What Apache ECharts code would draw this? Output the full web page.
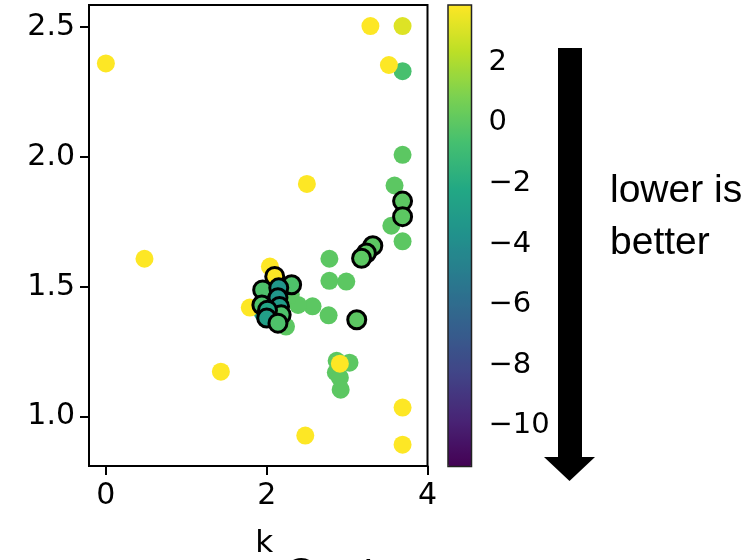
<!DOCTYPE html>
<html>
<head>
<meta charset="utf-8">
<script src="https://cdn.jsdelivr.net/npm/echarts@6/dist/echarts.min.js"></script>
<style>
  html, body { margin: 0; padding: 0; background: #fff; }
  #chart { width: 749px; height: 560px; }
</style>
</head>
<body>
<div id="chart"></div>
<script>
// Plain markers: k, y value, colour score
const plainK = [3.69, 3.69, 3.69, 3.59, 3.55, 3.69, 2.78, 2.78, 2.99, 2.57, 2.77,
                2.87, 3.03, 2.86, 2.91, 2.92, 2.39, 2.24, 2.30, 1.95,
                0.00, 3.29, 3.52, 2.50, 0.48, 1.43, 2.48, 3.69, 3.69,
                2.91, 2.04, 1.79];
const plainY = [2.504, 2.33, 2.008, 1.89, 1.735, 1.675, 1.608, 1.523, 1.52, 1.425, 1.39,
                1.215, 1.208, 1.17, 1.15, 1.104, 1.43, 1.347, 1.47, 1.40,
                2.36, 2.504, 2.354, 1.896, 1.608, 1.173, 0.927, 1.035, 0.892,
                1.204, 1.578, 1.42];
const plainScore = [3.13, -0.6, 0.0, 0.0, 0.0, 0.0, 0.0, 0.0, 0.0, 0.0, 0.0,
                    0.0, 0.0, 0.0, 0.0, 0.0, 0.0, 0.0, 0.0, -3.0,
                    3.89, 3.89, 3.89, 3.89, 3.89, 3.89, 3.89, 3.89, 3.89,
                    3.89, 3.89, 3.89];

// Outlined markers: k, y value, colour score
const ringK = [3.69, 3.69, 3.32, 3.24, 3.18, 3.12,
               2.10, 2.31, 1.95, 2.15, 2.14, 1.94, 2.16, 2.18, 2.01, 2.00, 2.14];
const ringY = [1.83, 1.77, 1.658, 1.63, 1.61, 1.373,
               1.54, 1.508, 1.488, 1.496, 1.458, 1.43, 1.424, 1.392, 1.41, 1.38, 1.36];
const ringScore = [0.0, 0.0, 0.0, 0.0, 0.0, 0.0,
                   3.89, -0.4, -0.4, -3.3, -3.3, -0.4, -3.0, -0.4, -2.3, -2.8, -0.4];

// Tick labels
const xTicks = [0, 2, 4];
const yTicks = [1.0, 1.5, 2.0, 2.5];
const barTicks = [-10, -8, -6, -4, -2, 0, 2];

const scoreMin = -11.34, scoreMax = 3.89;
const viridis = ['#440154', '#482475', '#414487', '#355f8d', '#2a788e', '#21918c',
                 '#22a884', '#44bf70', '#7ad151', '#bddf26', '#fde725'];

const zip = (a, b, c) => a.map((v, i) => [v, b[i], c[i]]);
const font = 'DejaVu Sans';
const tickStyle = { show: true, inside: false, length: 9, lineStyle: { color: '#000', width: 2 } };

const chart = echarts.init(document.getElementById('chart'));
chart.setOption({
  animation: false,
  backgroundColor: '#fff',
  grid: [
    { left: 89, top: 5, width: 338.5, height: 461, show: true, borderColor: '#000', borderWidth: 2,
      containLabel: false, outerBoundsMode: 'none' },
    { left: 448, top: 5, width: 23.5, height: 461.5, show: true, borderColor: '#222', borderWidth: 1.5,
      containLabel: false, outerBoundsMode: 'none', z: 10 }
  ],
  xAxis: [
    {
      gridIndex: 0, type: 'value', min: -0.21, max: 4.0,
      splitLine: { show: false },
      axisLine: { show: true, onZero: false, lineStyle: { color: '#000', width: 2 } },
      axisTick: Object.assign({ customValues: xTicks }, tickStyle),
      axisLabel: { customValues: xTicks, margin: 15, fontSize: 30, fontFamily: font, color: '#000' },
      name: 'k', nameLocation: 'middle', nameGap: 62,
      nameTextStyle: { fontSize: 31, fontFamily: font, color: '#000', padding: [0, 0, 0, 12] }
    },
    { gridIndex: 1, type: 'value', min: 0, max: 1, show: false }
  ],
  yAxis: [
    {
      gridIndex: 0, type: 'value', min: 0.81, max: 2.585,
      splitLine: { show: false },
      axisLine: { show: true, onZero: false, lineStyle: { color: '#000', width: 2 } },
      axisTick: Object.assign({ customValues: yTicks }, tickStyle),
      axisLabel: { customValues: yTicks, margin: 14, fontSize: 30, fontFamily: font, color: '#000',
                   formatter: v => v.toFixed(1) }
    },
    {
      gridIndex: 1, type: 'value', position: 'right', min: scoreMin, max: scoreMax,
      splitLine: { show: false },
      axisLine: { show: false },
      axisTick: Object.assign({ customValues: barTicks }, tickStyle),
      axisLabel: { customValues: barTicks, margin: 17, fontSize: 29, fontFamily: font, color: '#000',
                   formatter: v => (v < 0 ? '\u2212' + Math.abs(v) : String(v)) }
    }
  ],
  visualMap: {
    type: 'continuous', show: true, dimension: 2, seriesIndex: [0, 1],
    min: scoreMin, max: scoreMax, calculable: false, hoverLink: false,
    orient: 'vertical', left: 448, top: 5, padding: 0,
    itemWidth: 23.5, itemHeight: 461.5, text: null,
    inRange: { color: viridis }
  },
  series: [
    {
      type: 'scatter', xAxisIndex: 0, yAxisIndex: 0,
      symbolSize: 18,
      itemStyle: { opacity: 1 },
      data: zip(plainK, plainY, plainScore)
    },
    {
      type: 'scatter', xAxisIndex: 0, yAxisIndex: 0,
      symbolSize: 18,
      itemStyle: { opacity: 1, borderColor: '#000', borderWidth: 3 },
      data: zip(ringK, ringY, ringScore)
    }
  ],
  graphic: [
    { type: 'rect', shape: { x: 558, y: 48, width: 24, height: 410 }, style: { fill: '#000' } },
    { type: 'polygon', shape: { points: [[544, 457], [595, 457], [569.5, 481]] }, style: { fill: '#000' } },
    { type: 'text', left: 610, top: 172, style: { text: 'lower is', font: '39px "Liberation Sans"', fill: '#000' } },
    { type: 'text', left: 610, top: 224, style: { text: 'better', font: '39px "Liberation Sans"', fill: '#000' } },
    { type: 'text', left: 286, top: 555, style: { text: 'Cost', font: 'bold 40px "Liberation Sans"', fill: '#000' } }
  ]
});
</script>
</body>
</html>
